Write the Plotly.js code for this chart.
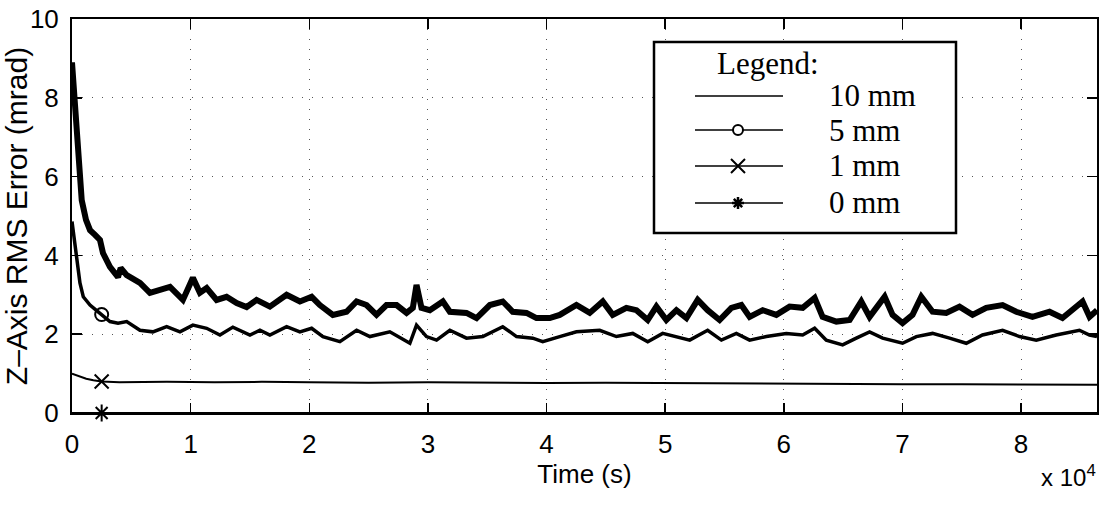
<!DOCTYPE html>
<html>
<head>
<meta charset="utf-8">
<script src="https://cdn.plot.ly/plotly-3.0.1.min.js"></script>
<style>
html,body{margin:0;padding:0;background:#fff;}
#chart{width:1112px;height:510px;}
</style>
</head>
<body>
<div id="chart"></div>
<script>
// ---- data ----
const seriesNames = ['10 mm', '5 mm', '1 mm', '0 mm'];
const markerTime = 2500;

const time10 = [0, 400, 820, 1180, 1520, 1940, 2360, 2610, 3200, 3880, 4100, 4610, 5730, 6570, 7410, 8260, 9350, 10190, 10780, 11350, 12190, 13030, 13880, 14720, 15560, 16680, 18090, 19210, 20200, 20890, 21990, 23140, 23990, 24830, 25670, 26510, 27360, 28200, 28730, 29040, 29460, 30160, 31260, 31850, 33250, 34100, 35220, 36310, 37150, 38310, 39150, 40270, 41110, 42520, 43640, 44740, 45580, 46730, 47580, 48530, 49260, 50100, 50950, 51790, 52740, 53580, 54590, 55580, 56420, 57120, 58220, 59370, 60490, 61590, 62600, 63270, 64430, 65550, 66530, 67230, 68500, 69170, 70010, 70850, 71590, 72540, 73690, 74810, 75910, 77060, 78440, 79590, 80960, 82400, 83490, 85180, 85770, 86400];
const rms10 = [8.9, 7.3, 5.4, 4.9, 4.64, 4.52, 4.39, 4.06, 3.71, 3.45, 3.68, 3.5, 3.3, 3.05, 3.12, 3.2, 2.87, 3.43, 3.05, 3.17, 2.87, 2.95, 2.79, 2.69, 2.87, 2.70, 3.0, 2.83, 2.95, 2.74, 2.49, 2.57, 2.83, 2.74, 2.49, 2.74, 2.74, 2.54, 2.67, 3.25, 2.67, 2.61, 2.83, 2.57, 2.54, 2.41, 2.74, 2.83, 2.57, 2.54, 2.41, 2.41, 2.49, 2.74, 2.54, 2.83, 2.49, 2.67, 2.61, 2.36, 2.70, 2.36, 2.61, 2.41, 2.87, 2.61, 2.36, 2.67, 2.74, 2.44, 2.61, 2.49, 2.70, 2.67, 2.92, 2.44, 2.32, 2.36, 2.83, 2.44, 2.95, 2.49, 2.28, 2.49, 2.95, 2.57, 2.54, 2.70, 2.49, 2.67, 2.74, 2.57, 2.44, 2.57, 2.41, 2.83, 2.44, 2.61];

const time5 = [0, 400, 670, 950, 1520, 2080, 2500, 3200, 3880, 4610, 5730, 6820, 7980, 9100, 10190, 11350, 12470, 13560, 15000, 15840, 16680, 18090, 19210, 20200, 21150, 22580, 23990, 25110, 26790, 28480, 29040, 29880, 30730, 31850, 33250, 34630, 36310, 37470, 38840, 39680, 41110, 42520, 44480, 45890, 47270, 48530, 49790, 50950, 52070, 53580, 54740, 56000, 57120, 58530, 60210, 61590, 62600, 63580, 64960, 66110, 67230, 68330, 70010, 71170, 72540, 73970, 75380, 76750, 78440, 79870, 81280, 82960, 84920, 85770, 86400];
const rms5 = [4.86, 3.88, 3.3, 2.95, 2.74, 2.6, 2.5, 2.32, 2.28, 2.32, 2.1, 2.06, 2.19, 2.06, 2.23, 2.15, 1.98, 2.18, 1.98, 2.1, 1.98, 2.19, 2.06, 2.15, 1.94, 1.81, 2.1, 1.94, 2.06, 1.77, 2.23, 1.94, 1.85, 2.1, 1.9, 1.94, 2.19, 1.94, 1.9, 1.81, 1.94, 2.06, 2.1, 1.94, 2.02, 1.81, 2.02, 1.94, 1.85, 2.1, 1.85, 2.02, 1.85, 1.94, 2.02, 1.98, 2.15, 1.85, 1.73, 1.9, 2.06, 1.9, 1.77, 1.94, 2.02, 1.9, 1.77, 1.98, 2.1, 1.94, 1.85, 1.98, 2.1, 1.98, 1.94];

const time1 = [0, 400, 1200, 1800, 2500, 4000, 8000, 12000, 16000, 20000, 25000, 30000, 35000, 40000, 45000, 50000, 55000, 60000, 65000, 70000, 75000, 80000, 86400];
const rms1 = [1.0, 0.95, 0.87, 0.83, 0.80, 0.78, 0.79, 0.78, 0.79, 0.78, 0.77, 0.78, 0.77, 0.76, 0.77, 0.76, 0.75, 0.75, 0.74, 0.73, 0.73, 0.72, 0.72];

const time0 = [0, 2500, 86400];
const rms0 = [0, 0, 0];

const xTickVals = [0, 10000, 20000, 30000, 40000, 50000, 60000, 70000, 80000];
const xTickLabels = ['0', '1', '2', '3', '4', '5', '6', '7', '8'];
const yTickVals = [0, 2, 4, 6, 8, 10];
const yTickLabels = ['0', '2', '4', '6', '8', '10'];

const xTitle = 'Time (s)';
const yTitle = 'Z\u2013Axis RMS Error (mrad)';
const xExponent = 'x 10<sup>4</sup>';
const legendTitle = 'Legend:';

// ---- styling / layout ----
const W = 1112, H = 510;
const M = {l: 72, r: 15, t: 19, b: 97};
const PW = W - M.l - M.r, PH = H - M.t - M.b;
const sansFont = 'Liberation Sans, Arial, Helvetica, sans-serif';
const serifFont = 'Liberation Serif, Times New Roman, serif';
function pxX(x) { return (x - M.l) / PW; }
function pxY(y) { return (H - M.b - y) / PH; }

function valueAt(times, vals, t) {
  const i = times.indexOf(t);
  return vals[i];
}

const lineTraces = [
  {x: time10, y: rms10, w: 6},
  {x: time5, y: rms5, w: 3.5},
  {x: time1, y: rms1, w: 2},
  {x: time0, y: rms0, w: 2}
].map((s, i) => ({
  type: 'scatter', mode: 'lines', x: s.x, y: s.y, name: seriesNames[i],
  line: {color: '#000', width: s.w}, showlegend: false, hoverinfo: 'x+y'
}));

const markerDefs = [
  {times: time5, vals: rms5, symbol: 'circle-open', size: 13, idx: 1},
  {times: time1, vals: rms1, symbol: 'x-thin-open', size: 14, idx: 2},
  {times: time0, vals: rms0, symbol: 'asterisk-open', size: 14, idx: 3}
];
const markerTraces = markerDefs.map(m => ({
  type: 'scatter', mode: 'markers',
  x: [markerTime], y: [valueAt(m.times, m.vals, markerTime)],
  name: seriesNames[m.idx], showlegend: false, cliponaxis: false,
  marker: {symbol: m.symbol, size: m.size, color: '#000', line: {color: '#000', width: 2}}
}));

// custom legend (box, sample lines, glyphs, labels)
const legBox = {x0: 654, x1: 956, y0: 42, y1: 233};
const rowY = [96, 130, 166, 203];
const lineX0 = 695, lineX1 = 783, glyphX = 738, textX = 827;
const shapes = [];
const annotations = [];
shapes.push({type: 'rect', xref: 'paper', yref: 'paper',
  x0: pxX(legBox.x0), x1: pxX(legBox.x1), y0: pxY(legBox.y1), y1: pxY(legBox.y0),
  line: {color: '#000', width: 2.5}, fillcolor: '#fff', layer: 'above'});
annotations.push({xref: 'paper', yref: 'paper', x: pxX(715), y: pxY(63),
  xanchor: 'left', yanchor: 'middle', text: legendTitle, showarrow: false,
  font: {family: serifFont, size: 31, color: '#000'}});
rowY.forEach((ry, i) => {
  shapes.push({type: 'line', xref: 'paper', yref: 'paper',
    x0: pxX(lineX0), x1: pxX(lineX1), y0: pxY(ry), y1: pxY(ry),
    line: {color: '#000', width: 1.5}, layer: 'above'});
  annotations.push({xref: 'paper', yref: 'paper', x: pxX(textX), y: pxY(ry),
    xanchor: 'left', yanchor: 'middle', text: seriesNames[i], showarrow: false,
    font: {family: serifFont, size: 31, color: '#000'}});
});
// circle glyph (5 mm)
shapes.push({type: 'circle', xref: 'paper', yref: 'paper',
  x0: pxX(glyphX - 5), x1: pxX(glyphX + 5), y0: pxY(rowY[1] + 5), y1: pxY(rowY[1] - 5),
  line: {color: '#000', width: 2}, fillcolor: '#fff', layer: 'above'});
// x glyph (1 mm)
(function () {
  const cx = glyphX, cy = rowY[2], r = 7;
  const p = 'M' + pxX(cx - r) + ',' + pxY(cy - r) + ' L' + pxX(cx + r) + ',' + pxY(cy + r) +
            ' M' + pxX(cx - r) + ',' + pxY(cy + r) + ' L' + pxX(cx + r) + ',' + pxY(cy - r);
  shapes.push({type: 'path', xref: 'paper', yref: 'paper', path: p,
    line: {color: '#000', width: 2}, layer: 'above'});
})();
// asterisk glyph (0 mm)
(function () {
  const cx = glyphX, cy = rowY[3], r = 6;
  const d = r * 0.7;
  const p = 'M' + pxX(cx) + ',' + pxY(cy - r) + ' L' + pxX(cx) + ',' + pxY(cy + r) +
            ' M' + pxX(cx - d) + ',' + pxY(cy - d) + ' L' + pxX(cx + d) + ',' + pxY(cy + d) +
            ' M' + pxX(cx - d) + ',' + pxY(cy + d) + ' L' + pxX(cx + d) + ',' + pxY(cy - d) +
            ' M' + pxX(cx - r) + ',' + pxY(cy) + ' L' + pxX(cx + r) + ',' + pxY(cy);
  shapes.push({type: 'path', xref: 'paper', yref: 'paper', path: p,
    line: {color: '#000', width: 2.5}, layer: 'above'});
})();

annotations.push({xref: 'paper', yref: 'paper', x: pxX(1098), y: pxY(476),
  xanchor: 'right', yanchor: 'middle', text: xExponent, showarrow: false,
  font: {family: sansFont, size: 24, color: '#000'}});

const axisCommon = {
  showline: true, linecolor: '#000', linewidth: 2, mirror: 'allticks',
  ticks: 'inside', ticklen: 10, tickwidth: 1.5, tickcolor: '#000',
  showgrid: true, gridcolor: '#555', gridwidth: 1, griddash: '1px,9px',
  zeroline: false, tickfont: {family: sansFont, size: 26, color: '#000'}
};

const layout = {
  width: W, height: H,
  margin: M,
  paper_bgcolor: '#fff', plot_bgcolor: '#fff',
  showlegend: false,
  xaxis: Object.assign({}, axisCommon, {
    range: [0, 86400], tickmode: 'array', tickvals: xTickVals, ticktext: xTickLabels,
    ticklabelstandoff: 7,
    title: {text: xTitle, font: {family: sansFont, size: 26, color: '#000'}, standoff: 2}
  }),
  yaxis: Object.assign({}, axisCommon, {
    range: [0, 10], tickmode: 'array', tickvals: yTickVals, ticktext: yTickLabels,
    ticklabelstandoff: 6,
    title: {text: yTitle, font: {family: sansFont, size: 30, color: '#000'}, standoff: 4}
  }),
  shapes: shapes,
  annotations: annotations
};

Plotly.newPlot('chart', lineTraces.concat(markerTraces), layout, {displayModeBar: false, staticPlot: true});
</script>
</body>
</html>
